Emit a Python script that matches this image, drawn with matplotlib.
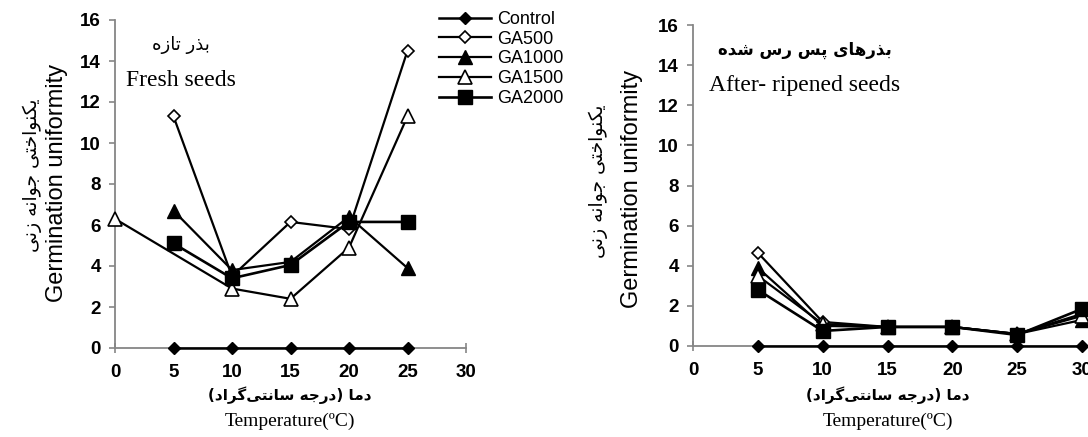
import matplotlib
matplotlib.use("Agg")
import matplotlib.pyplot as plt
from matplotlib.lines import Line2D

# ---------------- data ----------------
series_names = ["Control", "GA500", "GA1000", "GA1500", "GA2000"]

fresh_x = {
    "Control": [5, 10, 15, 20, 25],
    "GA500": [5, 10, 15, 20, 25],
    "GA1000": [5, 10, 15, 20, 25],
    "GA1500": [0, 10, 15, 20, 25],
    "GA2000": [5, 10, 15, 20, 25],
}
fresh_y = {
    "Control": [0, 0, 0, 0, 0],
    "GA500": [11.3, 3.5, 6.15, 5.8, 14.5],
    "GA1000": [6.7, 3.8, 4.2, 6.4, 3.9],
    "GA1500": [6.3, 2.9, 2.4, 4.9, 11.3],
    "GA2000": [5.1, 3.4, 4.05, 6.15, 6.15],
}

ripe_x = [5, 10, 15, 20, 25, 30]
ripe_y = {
    "Control": [0, 0, 0, 0, 0, 0],
    "GA500": [4.65, 1.2, 0.95, 0.95, 0.6, 1.6],
    "GA1000": [3.9, 1.0, 0.95, 0.95, 0.6, 1.3],
    "GA1500": [3.5, 1.1, 0.95, 0.95, 0.6, 1.5],
    "GA2000": [2.8, 0.75, 0.95, 0.95, 0.55, 1.85],
}

x_ticks = [0, 5, 10, 15, 20, 25, 30]
y_ticks = [0, 2, 4, 6, 8, 10, 12, 14, 16]

fresh_title_fa = "بذر تازه"
fresh_title_en = "Fresh seeds"
ripe_title_fa = "بذرهای پس رس شده"
ripe_title_en = "After- ripened seeds"
ylabel_en = "Germination uniformity"
ylabel_fa = "یکنواختی جوانه زنی"
xlabel_fa = "دما (درجه سانتی\u200cگراد)"
xlabel_en = "Temperature(ºC)"

# ---------------- simple Persian shaping ----------------
FORMS = {
    '\u0627': ('\uFE8D', '\uFE8E', None, None),
    '\u0628': ('\uFE8F', '\uFE90', '\uFE91', '\uFE92'),
    '\u067E': ('\uFB56', '\uFB57', '\uFB58', '\uFB59'),
    '\u062A': ('\uFE95', '\uFE96', '\uFE97', '\uFE98'),
    '\u062C': ('\uFE9D', '\uFE9E', '\uFE9F', '\uFEA0'),
    '\u062E': ('\uFEA5', '\uFEA6', '\uFEA7', '\uFEA8'),
    '\u062F': ('\uFEA9', '\uFEAA', None, None),
    '\u0630': ('\uFEAB', '\uFEAC', None, None),
    '\u0631': ('\uFEAD', '\uFEAE', None, None),
    '\u0632': ('\uFEAF', '\uFEB0', None, None),
    '\u0633': ('\uFEB1', '\uFEB2', '\uFEB3', '\uFEB4'),
    '\u0634': ('\uFEB5', '\uFEB6', '\uFEB7', '\uFEB8'),
    '\u06A9': ('\uFB8E', '\uFB8F', '\uFB90', '\uFB91'),
    '\u06AF': ('\uFB92', '\uFB93', '\uFB94', '\uFB95'),
    '\u0645': ('\uFEE1', '\uFEE2', '\uFEE3', '\uFEE4'),
    '\u0646': ('\uFEE5', '\uFEE6', '\uFEE7', '\uFEE8'),
    '\u0648': ('\uFEED', '\uFEEE', None, None),
    '\u0647': ('\uFEE9', '\uFEEA', '\uFEEB', '\uFEEC'),
    '\u06CC': ('\uFBFC', '\uFBFD', '\uFBFE', '\uFBFF'),
}
MIRROR = {'(': ')', ')': '('}


def shape_fa(text):
    out = []
    n = len(text)
    for i, ch in enumerate(text):
        if ch == '\u200c':
            continue
        if ch not in FORMS:
            out.append(MIRROR.get(ch, ch))
            continue
        f = FORMS[ch]
        prev = text[i - 1] if i > 0 else ''
        nxt = text[i + 1] if i < n - 1 else ''
        pj = prev in FORMS and FORMS[prev][2] is not None
        nj = nxt in FORMS and f[2] is not None
        if pj and nj:
            g = f[3]
        elif pj:
            g = f[1]
        elif nj:
            g = f[2]
        else:
            g = f[0]
        out.append(g)
    return ''.join(reversed(out))


# ---------------- styles ----------------
styles = {
    "Control": dict(marker='D', ms=6.5, mfc='black', mec='black', lw=1.8),
    "GA500": dict(marker='D', ms=6.5, mfc='white', mec='black', mew=1.2, lw=1.6),
    "GA1000": dict(marker='^', ms=10, mfc='black', mec='black', lw=1.6),
    "GA1500": dict(marker='^', ms=10, mfc='white', mec='black', mew=1.2, lw=1.6),
    "GA2000": dict(marker='s', ms=10, mfc='black', mec='black', lw=1.9),
}

W, H = 1088, 437
fig = plt.figure(figsize=(W / 100, H / 100), dpi=100)

AX_GRAY = '#868686'


def setup(ax):
    ax.set_xlim(0, 30)
    ax.set_ylim(0, 16)
    ax.set_xticks(x_ticks)
    ax.set_yticks(y_ticks)
    for s in ['top', 'right']:
        ax.spines[s].set_visible(False)
    for s in ['left', 'bottom']:
        ax.spines[s].set_color(AX_GRAY)
        ax.spines[s].set_linewidth(1.3)
    ax.tick_params(axis='y', direction='out', length=4, width=1.2, color=AX_GRAY, pad=6)
    ax.tick_params(axis='x', direction='inout', length=7, width=1.2, color=AX_GRAY, pad=8)
    for lab in ax.get_xticklabels() + ax.get_yticklabels():
        lab.set_fontweight('bold')
        lab.set_fontsize(13.5)
        lab.set_fontfamily('Liberation Sans')
    ax.patch.set_alpha(0)


ax1 = fig.add_axes([115 / W, 1 - 348 / H, (466 - 115) / W, (348 - 20) / H])
setup(ax1)
for name in series_names:
    ax1.plot(fresh_x[name], fresh_y[name], color='black', clip_on=False, zorder=3, **styles[name])

ax2 = fig.add_axes([693 / W, 1 - 346 / H, (1082 - 693) / W, (346 - 25) / H])
setup(ax2)
for name in series_names:
    ax2.plot(ripe_x, ripe_y[name], color='black', clip_on=False, zorder=3, **styles[name])


def ft(x, y, s, **kw):
    fig.text(x / W, 1 - y / H, s, ha='center', va='center', **kw)


# titles
ft(181, 45, shape_fa(fresh_title_fa), fontsize=13, family='DejaVu Sans')
ft(181, 81, fresh_title_en, fontsize=17, family='Liberation Serif')
ft(805, 50, shape_fa(ripe_title_fa), fontsize=12, family='DejaVu Sans', fontweight='bold')
ft(805, 85, ripe_title_en, fontsize=17, family='Liberation Serif')

# y labels
for xg, xf, yc, yf in [(57, 32, 183, 175), (632, 598, 189, 181)]:
    ft(xg, yc, ylabel_en, fontsize=17, family='Liberation Sans', rotation=90)
    ft(xf, yf, shape_fa(ylabel_fa), fontsize=13.5, family='DejaVu Sans', rotation=90)

# x labels
for xc in [290, 888]:
    ft(xc, 395, shape_fa(xlabel_fa), fontsize=11, family='DejaVu Sans', fontweight='bold')
    ft(xc, 421, xlabel_en, fontsize=14, family='Liberation Serif')

# legend
handles = [Line2D([], [], color='black', **styles[n]) for n in series_names]
leg = fig.legend(handles, series_names, loc='upper left',
                 bbox_to_anchor=(439 / W, 1 - 11 / H), frameon=False,
                 handlelength=2.9, handletextpad=0.3, labelspacing=0.15,
                 borderaxespad=0, borderpad=0,
                 prop=dict(family='Liberation Sans', size=13))

fig.savefig('out.png', dpi=100)
